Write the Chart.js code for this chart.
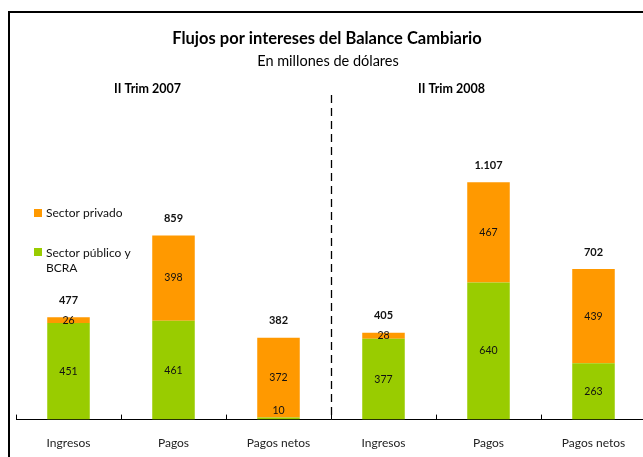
<!DOCTYPE html>
<html>
<head>
<meta charset="utf-8">
<script src="https://cdn.jsdelivr.net/npm/chart.js@4"></script>
<style>
    body { margin: 0; overflow: hidden; background: #fff; }
    .chart-box { width: 660px; height: 474px; }
</style>
</head>
<body>
<div class="chart-box"><canvas class="flujosChart" width="660" height="474"></canvas></div>
<script>
const categories = ['Ingresos', 'Pagos', 'Pagos netos', 'Ingresos', 'Pagos', 'Pagos netos'];
const sectorPublico = [451, 461, 10, 377, 640, 263];
const sectorPrivado = [26, 398, 372, 28, 467, 439];
const periodLabels = ['II Trim 2007', 'II Trim 2008'];
const seriesNames = ['Sector público y BCRA', 'Sector privado'];

const GREEN = '#99cc00';
const ORANGE = '#ff9900';
const FONT = 'Lato, "Open Sans", sans-serif';

const flujosCanvas = document.querySelector('.flujosChart');

function formatMiles(n) {
    return String(n).replace(/\B(?=(\d{3})+(?!\d))/g, '.');
}

// titles, legend, ticks, dashed divider and value labels
const decorPlugin = {
    id: 'decor',
    afterDraw(chart) {
        const ctx = chart.ctx;
        const area = chart.chartArea;
        const x = chart.scales.x;
        const step = area.width / categories.length;

        ctx.save();

        // frame
        ctx.strokeStyle = '#000';
        ctx.lineWidth = 2;
        ctx.beginPath();
        ctx.moveTo(9, 474);
        ctx.lineTo(9, 12);
        ctx.lineTo(660, 12);
        ctx.stroke();

        ctx.fillStyle = '#000';
        ctx.textAlign = 'center';
        ctx.textBaseline = 'middle';
        ctx.font = 'bold 16.5px ' + FONT;
        ctx.fillText('Flujos por intereses del Balance Cambiario', 327, 39);
        ctx.font = '14.5px ' + FONT;
        ctx.fillText('En millones de dólares', 328, 61);

        ctx.font = 'bold 12.5px ' + FONT;
        ctx.fillText(periodLabels[0], x.getPixelForValue(1) - 26, 89);
        ctx.fillText(periodLabels[1], x.getPixelForValue(4) - 37, 89);

        // small upward ticks on the axis
        ctx.lineWidth = 1;
        ctx.beginPath();
        for (let k = 0; k < categories.length; k++) {
            const tx = Math.round(area.left + k * step) + 0.5;
            ctx.moveTo(tx, area.bottom);
            ctx.lineTo(tx, area.bottom - 5);
        }
        ctx.stroke();

        // dashed divider between periods
        const dx = Math.round(area.left + 3 * step) + 0.5;
        ctx.lineWidth = 1.3;
        ctx.setLineDash([8, 5]);
        ctx.beginPath();
        ctx.moveTo(dx, 95);
        ctx.lineTo(dx, area.bottom);
        ctx.stroke();
        ctx.setLineDash([]);

        // legend
        ctx.textAlign = 'left';
        ctx.font = '12px ' + FONT;
        ctx.fillStyle = ORANGE;
        ctx.fillRect(34, 209, 8, 8);
        ctx.fillStyle = GREEN;
        ctx.fillRect(34, 248, 8, 8);
        ctx.fillStyle = '#111';
        ctx.fillText(seriesNames[1], 46, 213);
        ctx.fillText('Sector público y', 46, 253);
        ctx.fillText('BCRA', 46, 268);

        // segment labels
        ctx.textAlign = 'center';
        ctx.font = '10.5px ' + FONT;
        chart.data.datasets.forEach((ds, di) => {
            chart.getDatasetMeta(di).data.forEach((bar, i) => {
                const top = Math.min(bar.y, bar.base);
                const bottom = Math.max(bar.y, bar.base);
                const cy = Math.min((top + bottom) / 2, area.bottom - 9);
                ctx.fillText(String(ds.data[i]), bar.x, cy);
            });
        });

        // totals
        ctx.font = 'bold 11px ' + FONT;
        const topMeta = chart.getDatasetMeta(1).data;
        categories.forEach((c, i) => {
            const total = sectorPublico[i] + sectorPrivado[i];
            ctx.fillText(formatMiles(total), topMeta[i].x, topMeta[i].y - 17);
        });

        ctx.restore();
    }
};

new Chart(flujosCanvas, {
    type: 'bar',
    data: {
        labels: categories,
        datasets: [
            {
                label: seriesNames[0],
                data: sectorPublico,
                backgroundColor: GREEN,
                barPercentage: 0.405,
                categoryPercentage: 1
            },
            {
                label: seriesNames[1],
                data: sectorPrivado,
                backgroundColor: ORANGE,
                barPercentage: 0.405,
                categoryPercentage: 1
            }
        ]
    },
    options: {
        responsive: false,
        animation: false,
        layout: { padding: { left: 16, right: 14, top: 98, bottom: 8 } },
        scales: {
            x: {
                stacked: true,
                grid: { display: false, drawTicks: false },
                border: { display: true, color: '#000', width: 1 },
                ticks: {
                    color: '#222',
                    padding: 16,
                    font: { family: FONT, size: 12 }
                }
            },
            y: {
                stacked: true,
                display: false,
                min: 0,
                max: 1500
            }
        },
        plugins: {
            legend: { display: false },
            tooltip: { enabled: false }
        }
    },
    plugins: [decorPlugin]
});
</script>
</body>
</html>
